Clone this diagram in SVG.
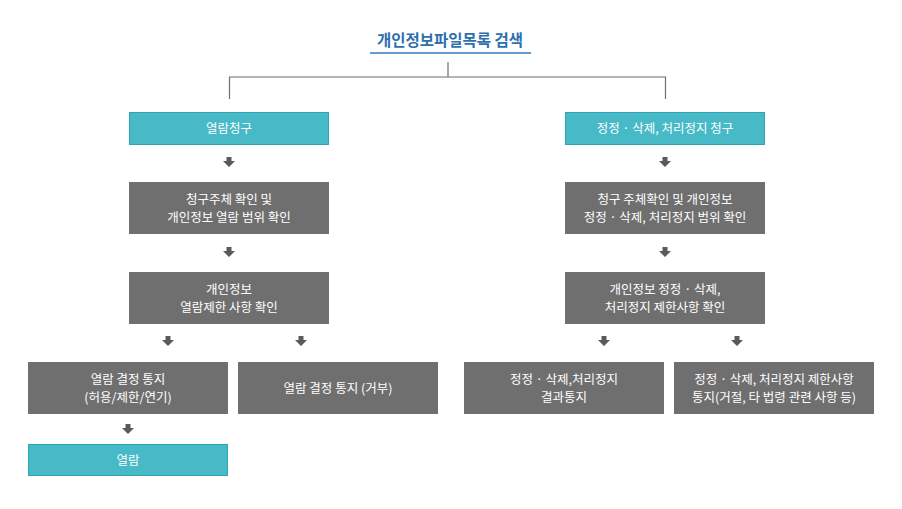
<svg xmlns="http://www.w3.org/2000/svg" width="902" height="509" viewBox="0 0 902 509">
<defs>
<style>
text{font-family:"Noto Sans CJK KR","Noto Sans",sans-serif;font-size:12.5px;fill:#fff;text-anchor:middle}
.t{fill:#47b9c7;stroke:#2fa5b3;stroke-width:1}
.g{fill:#6f6f6f}
.ln{stroke:#6f6f6f;stroke-width:1.2;fill:none}
</style>
<path id="ar" d="M-2.5,-5 h5 v4 h3.5 l-6,6 l-6,-6 h3.5z" fill="#5a5a5a"/>
</defs>
<g id="title">
<text x="450" y="46" style="fill:#2f6fae;font-size:15.5px;font-weight:bold">개인정보파일목록 검색</text>
<line x1="370" y1="53" x2="531" y2="53" stroke="#2f78c0" stroke-width="1.5"/>
</g>
<g id="connectors">
<path class="ln" d="M448,62 V77 M229.5,99 V77 H665.5 V99"/>
<use href="#ar" x="229" y="162"/>
<use href="#ar" x="665" y="162"/>
<use href="#ar" x="229" y="252"/>
<use href="#ar" x="665" y="252"/>
<use href="#ar" x="168" y="341"/>
<use href="#ar" x="301" y="341"/>
<use href="#ar" x="604" y="341"/>
<use href="#ar" x="737" y="341"/>
<use href="#ar" x="128" y="429"/>
</g>
<g id="n1"><rect class="t" x="129.5" y="112.5" width="199" height="32"/><text x="229" y="133">열람청구</text></g>
<g id="n2"><rect class="t" x="565.5" y="112.5" width="199" height="32"/><text x="665" y="133">정정 · 삭제, 처리정지 청구</text></g>
<g id="n3"><rect class="g" x="129" y="182" width="200" height="52"/><text x="229" y="204">청구주체 확인 및</text><text x="229" y="222">개인정보 열람 범위 확인</text></g>
<g id="n4"><rect class="g" x="565" y="182" width="200" height="52"/><text x="665" y="204">청구 주체확인 및 개인정보</text><text x="665" y="222">정정 · 삭제, 처리정지 범위 확인</text></g>
<g id="n5"><rect class="g" x="129" y="272" width="200" height="52"/><text x="229" y="294">개인정보</text><text x="229" y="312">열람제한 사항 확인</text></g>
<g id="n6"><rect class="g" x="565" y="272" width="200" height="52"/><text x="665" y="294">개인정보 정정 · 삭제,</text><text x="665" y="312">처리정지 제한사항 확인</text></g>
<g id="n7"><rect class="g" x="28" y="362" width="200" height="52"/><text x="128" y="384">열람 결정 통지</text><text x="128" y="402">(허용/제한/연기)</text></g>
<g id="n8"><rect class="g" x="238" y="362" width="200" height="52"/><text x="338" y="393">열람 결정 통지 (거부)</text></g>
<g id="n9"><rect class="g" x="464" y="362" width="200" height="52"/><text x="564" y="384">정정 · 삭제,처리정지</text><text x="564" y="402">결과통지</text></g>
<g id="n10"><rect class="g" x="674" y="362" width="200" height="52"/><text x="774" y="384">정정 · 삭제, 처리정지 제한사항</text><text x="774" y="402">통지(거절, 타 법령 관련 사항 등)</text></g>
<g id="n11"><rect class="t" x="28.5" y="444.5" width="199" height="31"/><text x="128" y="465">열람</text></g>
</svg>
